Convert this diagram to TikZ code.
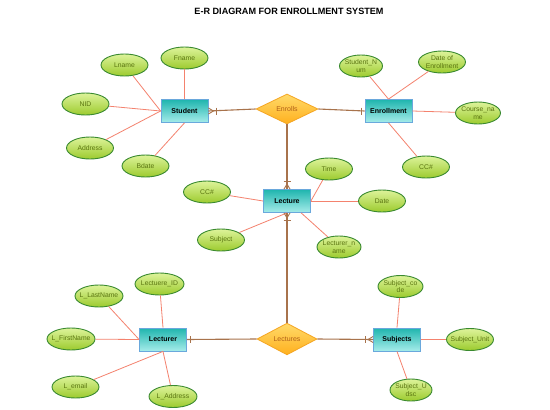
\documentclass[tikz,border=0pt]{standalone}
\usepackage{fontspec}
\setmainfont{Liberation Sans}
\usetikzlibrary{shapes.geometric,calc}
\definecolor{attrTop}{HTML}{DDF39A}
\definecolor{attrBot}{HTML}{9CCB2E}
\definecolor{attrBorder}{HTML}{3A8A30}
\definecolor{attrText}{HTML}{5A7410}
\definecolor{entTop}{HTML}{1FB5AE}
\definecolor{entBot}{HTML}{A6ECEA}
\definecolor{entBorder}{HTML}{6AA8DC}
\definecolor{relTop}{HTML}{FFDA6A}
\definecolor{relBot}{HTML}{FFB01E}
\definecolor{relBorder}{HTML}{F5A623}
\definecolor{relText}{HTML}{B0601A}
\definecolor{attrLine}{HTML}{F4826E}
\definecolor{relLine}{HTML}{A8734C}
\tikzset{
  attr/.style={ellipse, draw=attrBorder, line width=0.9pt, top color=attrTop, bottom color=attrBot,
    minimum width=47pt, minimum height=22pt, inner xsep=-12pt, inner ysep=-6pt, align=center,
    text=attrText, font=\fontsize{6.8}{7.6}\selectfont},
  entity/.style={rectangle, draw=entBorder, line width=0.8pt, top color=entTop, bottom color=entBot,
    minimum width=47pt, minimum height=23pt, inner sep=0pt, font=\fontsize{7}{8}\selectfont\bfseries},
  rel/.style={diamond, draw=relBorder, line width=0.8pt, top color=relTop, bottom color=relBot,
    minimum width=62pt, minimum height=30pt, inner sep=0pt, text=relText, font=\fontsize{7}{8}\selectfont},
  aline/.style={draw=attrLine, line width=0.8pt},
  rline/.style={draw=relLine, line width=1.1pt},
  cardmark/.style={draw=relLine, line width=0.9pt}
}
\begin{document}
\begin{tikzpicture}[x=1pt,y=-1pt]
\useasboundingbox[fill=white] (0,0) rectangle (550,410);
\node[font=\fontsize{9.1}{10}\selectfont\bfseries] (title) at (289,11) {E-R DIAGRAM FOR ENROLLMENT SYSTEM};

% Student
\node[entity] (stu) at (184.5,111) {Student};
\node[attr] (fname) at (184.5,58) {Fname};
\node[attr] (lname) at (124.5,65) {Lname};
\node[attr] (nid) at (85.5,104) {NID};
\node[attr] (addr) at (90,148) {Address};
\node[attr] (bdate) at (145.5,166) {Bdate};
\draw[aline] (fname) -- (stu.north);
\draw[aline] (lname) -- (stu.west);
\draw[aline] (nid) -- (stu.west);
\draw[aline] (addr) -- (stu.west);
\draw[aline] (bdate) -- (stu.south);

% Enrollment
\node[entity] (enr) at (388.5,111) {Enrollment};
\node[attr, minimum width=43pt] (snum) at (361,66) {Student\_N\\um};
\node[attr] (doe) at (442,62) {Date of\\Enrollment};
\node[attr, minimum width=45pt] (cname) at (478,113) {Course\_na\\me};
\node[attr] (cc1) at (426,167) {CC\#};
\draw[aline] (snum) -- (enr.north);
\draw[aline] (doe) -- (enr.north);
\draw[aline] (cname) -- (enr.east);
\draw[aline] (cc1) -- (enr.south);

% Enrolls
\node[rel] (enrolls) at (287,109) {Enrolls};
\draw[rline] (stu.east) -- (enrolls.west);
\draw[rline] (enrolls.east) -- (enr.west);

% Lecture
\node[entity] (lec) at (287,201) {Lecture};
\node[attr] (time) at (329,169) {Time};
\node[attr] (date) at (382,201) {Date};
\node[attr] (cc2) at (207,192) {CC\#};
\node[attr] (subj1) at (221,240) {Subject};
\node[attr, minimum width=44pt] (lname2) at (339,247) {Lecturer\_n\\ame};
\draw[rline] (enrolls.south) -- (lec.north);
\draw[aline] (cc2) -- (lec.west);
\draw[aline] (time) -- (lec.east);
\draw[aline] (date) -- (lec.east);
\draw[aline] (subj1) -- (lec.south);
\draw[aline] (lname2) -- (lec.-40);

% Lectures
\node[rel, minimum width=60pt, minimum height=31pt] (lectures) at (287,339) {Lectures};
\draw[rline] (lec.south) -- (lectures.north);

% Lecturer
\node[entity] (lect) at (163,339.5) {Lecturer};
\node[attr, minimum width=49pt] (lid) at (159.5,284) {Lectuere\_ID};
\node[attr, minimum width=48pt] (llast) at (99,296) {L\_LastName};
\node[attr, minimum width=48pt] (lfirst) at (71,339) {L\_FirstName};
\node[attr] (lemail) at (75.5,387) {L\_email};
\node[attr, minimum width=48pt] (laddr) at (173,396.5) {L\_Address};
\draw[aline] (lid) -- (lect.north);
\draw[aline] (llast) -- (lect.west);
\draw[aline] (lfirst) -- (lect.west);
\draw[aline] (lemail) -- (lect.south);
\draw[aline] (laddr) -- (lect.south);
\draw[rline] (lectures.west) -- (lect.east);

% Subjects
\node[entity] (subj) at (397,339.5) {Subjects};
\node[attr, minimum width=45pt] (scode) at (400.5,286.5) {Subject\_co\\de};
\node[attr] (sunit) at (470,339.5) {Subject\_Unit};
\node[attr, minimum width=42pt] (sudsc) at (411,390) {Subject\_U\\dsc};
\draw[aline] (scode) -- (subj.north);
\draw[aline] (sunit) -- (subj.east);
\draw[aline] (sudsc) -- (subj.south);
\draw[rline] (lectures.east) -- (subj.west);

% cardinality marks
\draw[cardmark] ($(stu.east)+(0,-3)$) -- ($(stu.east)+(5,0)$) -- ($(stu.east)+(0,3)$);
\draw[cardmark] ($(stu.east)+(8,-3.5)$) -- ($(stu.east)+(8,3.5)$);
\draw[cardmark] ($(enr.west)+(-3,-3.5)$) -- ($(enr.west)+(-3,3.5)$);
\draw[cardmark] ($(lec.north)+(-3,0)$) -- ($(lec.north)+(0,-5)$) -- ($(lec.north)+(3,0)$);
\draw[cardmark] ($(lec.north)+(-3.5,-8)$) -- ($(lec.north)+(3.5,-8)$);
\draw[cardmark] ($(lec.south)+(-3,0)$) -- ($(lec.south)+(0,5)$) -- ($(lec.south)+(3,0)$);
\draw[cardmark] ($(lec.south)+(-3.5,8)$) -- ($(lec.south)+(3.5,8)$);
\draw[cardmark] ($(lect.east)+(4,-3.5)$) -- ($(lect.east)+(4,3.5)$);
\draw[cardmark] ($(subj.west)+(0,-3)$) -- ($(subj.west)+(-5,0)$) -- ($(subj.west)+(0,3)$);
\draw[cardmark] ($(subj.west)+(-8,-3.5)$) -- ($(subj.west)+(-8,3.5)$);
\end{tikzpicture}
\end{document}
